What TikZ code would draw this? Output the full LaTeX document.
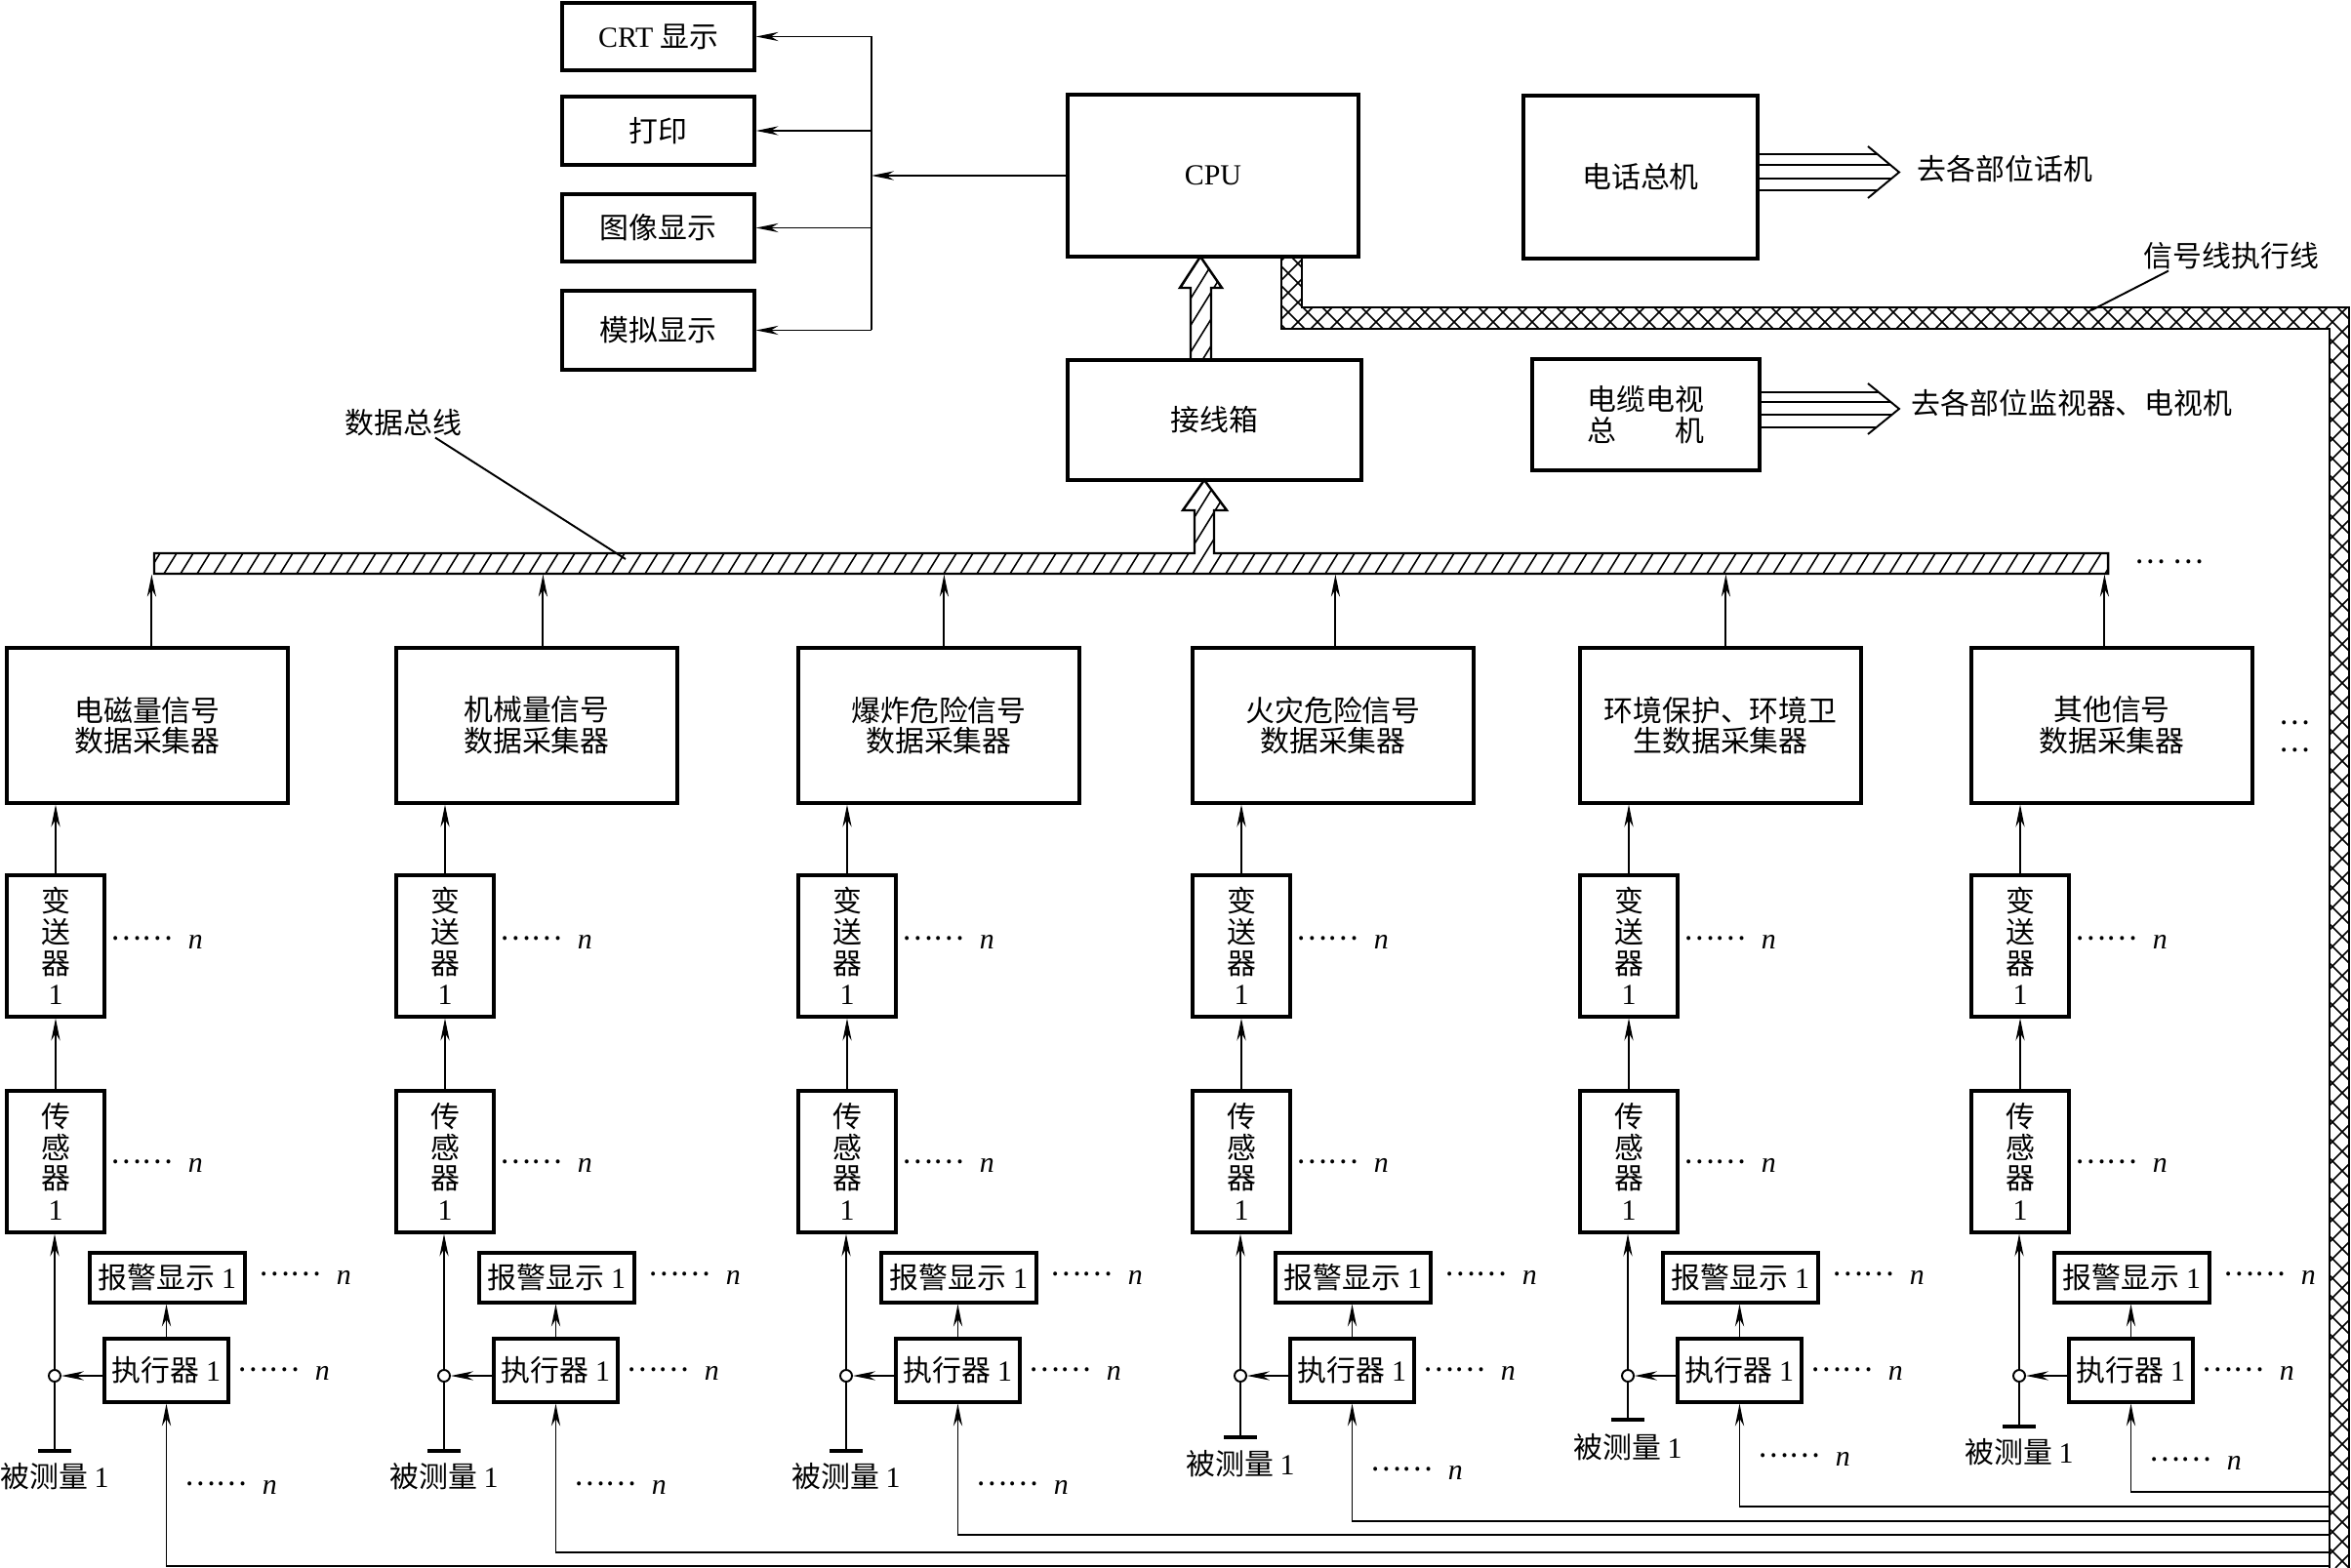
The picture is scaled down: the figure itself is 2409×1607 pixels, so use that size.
\documentclass[tikz,border=0pt]{standalone}
\usepackage{fontspec}
\setmainfont{Liberation Serif}
\newfontfamily\cjk{Noto Sans CJK SC}
\usetikzlibrary{arrows.meta,calc}
\newdimen\upx \upx=0.01cm
\newcommand\lat[1]{{\rmfamily #1}}
\newcommand\mydots[1]{\raisebox{0.3em}{#1}}
\newcommand\mydn{\mydots{……}\hspace{4.5pt}\lat{\itshape n}}
\tikzset{
  box/.style={draw, line width=0.9pt, inner sep=0pt, align=center, font=\fontsize{8.5}{9}\cjk},
  conn/.style={line width=0.55pt},
  arr/.style={conn, -{Stealth[length=6.5pt,width=2.6pt]}},
  lbl/.style={inner sep=0pt, font=\fontsize{8.5}{9}\cjk},
  dotn/.style={lbl, anchor=west},
  hatch/.style={line width=0.45pt},
  outl/.style={line width=0.7pt},
}
\newcommand\mybox[7][]{\node[box,#1,minimum width={((#5)-(#3))*\upx},minimum height={((#6)-(#4))*\upx}] (#2) at ({((#3)+(#5))/2},{((#4)+(#6))/2}) {#7};}
\begin{document}
\begin{tikzpicture}[x=0.01cm,y=-0.01cm]
\useasboundingbox (0,0) rectangle (2409,1607);

% ---------- cross-hatched signal/actuator cable ----------
\begin{scope}
\clip (1313,263) -- (1313,337) -- (2387,337) -- (2387,1607) -- (2407,1607) -- (2407,315) -- (1334,315) -- (1334,263) -- cycle;
\foreach \c in {-300,-280,...,2160} \draw[hatch] (\c+263,263) -- (\c+1607,1607);
\foreach \c in {1560,1580,...,4020} \draw[hatch] (\c-263,263) -- (\c-1607,1607);
\end{scope}
\draw[outl] (1313,263) -- (1313,337) -- (2387,337) -- (2387,1607);
\draw[outl] (1334,263) -- (1334,315) -- (2407,315) -- (2407,1607);

% ---------- data bus with hollow arrow ----------
\begin{scope}
\clip (158,567) -- (1224,567) -- (1224,523) -- (1212,523) -- (1234,492) -- (1257,523) -- (1244,523) -- (1244,567) -- (2160,567) -- (2160,588) -- (158,588) -- cycle;
\foreach \x in {100,117,...,2180} \draw[hatch] (\x,588) -- (\x+59.4,492);
\end{scope}
\draw[outl] (158,567) -- (1224,567) -- (1224,523) -- (1212,523) -- (1234,492) -- (1257,523) -- (1244,523) -- (1244,567) -- (2160,567) -- (2160,588) -- (158,588) -- cycle;
\node[inner sep=0pt, minimum width={2002*\upx}, minimum height={21*\upx}] (bus) at (1159,577.5) {};

% hollow arrow junction box -> CPU
\begin{scope}
\clip (1220,369) -- (1220,295) -- (1209,295) -- (1230,263) -- (1252,295) -- (1241,295) -- (1241,369) -- cycle;
\foreach \x in {1130,1147,...,1270} \draw[hatch] (\x,369) -- (\x+65.6,263);
\end{scope}
\draw[outl] (1220,369) -- (1220,295) -- (1209,295) -- (1230,263) -- (1252,295) -- (1241,295) -- (1241,369);

% ---------- top boxes ----------
\mybox{crt}{576}{3}{773}{72}{\lat{CRT} 显示}
\mybox{prt}{576}{99}{773}{169}{打印}
\mybox{img}{576}{199}{773}{268}{图像显示}
\mybox{sim}{576}{298}{773}{379}{模拟显示}
\mybox{cpu}{1094}{97}{1392}{263}{\lat{CPU}}
\mybox{jxx}{1094}{369}{1395}{492}{接线箱}
\mybox{tel}{1561}{98}{1801}{265}{电话总机}
\mybox{tv}{1570}{368}{1803}{482}{电缆电视\\总\hspace{2em}机}

\coordinate (vt) at (893,0);
\draw[conn] (vt |- crt) -- (vt |- sim);
\draw[arr] (cpu.west) -- (cpu.west -| vt);
\foreach \n in {crt,prt,img,sim} \draw[arr] (vt |- \n) -- (\n.east);

% multi-line arrows
\foreach \dy/\ex in {-23.5/1924,-12.5/1937,1.5/1938,13.5/1924}
  \draw[conn] ($(tel.east)+(0,\dy)$) -- (\ex,{181.5+\dy});
\coordinate (telTip) at (1946,176.5);
\draw[conn] (1914,150) -- (telTip) -- (1914,203);
\foreach \dy/\ex in {-23/1925,-13/1937,0/1939,13/1923}
  \draw[conn] ($(tv.east)+(0,\dy)$) -- (\ex,{425+\dy});
\coordinate (tvTip) at (1946,419);
\draw[conn] (1914,393) -- (tvTip) -- (1914,445);

\node[lbl, anchor=west] (l1) at (1964,173) {去各部位话机};
\node[lbl, anchor=west] (l2) at (1958,413) {去各部位监视器、电视机};
\node[lbl, anchor=west] (l3) at (2196,262) {信号线执行线};
\coordinate (l3p) at (2143,318);
\draw[conn] ($(l3.south west)+(26,1)$) -- (l3p);
\node[lbl, anchor=west] (l4) at (353,433) {数据总线};
\coordinate (l4p) at (641,573);
\draw[conn] ($(l4.south west)+(93,1)$) -- (l4p);

\node[lbl] (bd) at (2223,580) {\mydots{…\hspace{2pt}…}};
\node[lbl] (rd1) at (2351,745) {\mydots{…}};
\node[lbl] (rd2) at (2351,773) {\mydots{…}};

% ---------- collectors ----------
\mybox{col1}{7}{664}{295}{823}{电磁量信号\\数据采集器}
\mybox{col2}{406}{664}{694}{823}{机械量信号\\数据采集器}
\mybox{col3}{818}{664}{1106}{823}{爆炸危险信号\\数据采集器}
\mybox{col4}{1222}{664}{1510}{823}{火灾危险信号\\数据采集器}
\mybox{col5}{1619}{664}{1907}{823}{环境保护、环境卫\\生数据采集器}
\mybox{col6}{2020}{664}{2308}{823}{其他信号\\数据采集器}

\foreach \i/\b/\ax/\yg/\yl/\yd/\yr in {
1/7/150/1487/1513/1522/1605,
2/406/152/1487/1513/1522/1591,
3/818/151/1487/1513/1522/1573,
4/1222/148/1473/1500/1507/1559,
5/1619/151/1455/1483/1493/1544,
6/2020/138/1462/1488/1497/1529}{
  \mybox{tx\i}{\b}{897}{\b+100}{1042}{变\\送\\器\\\lat{1}}
  \mybox{sn\i}{\b}{1118}{\b+100}{1263}{传\\感\\器\\\lat{1}}
  \mybox{al\i}{\b+85}{1284}{\b+244}{1335}{报警显示 \lat{1}}
  \mybox{ex\i}{\b+100}{1372}{\b+227}{1437}{执行器 \lat{1}}
  \node[circle,draw,conn,fill=white,inner sep=0pt,minimum size={12*\upx}] (j\i) at (\b+49,1410) {};
  \coordinate (g\i) at (\b+49,\yg);
  \coordinate (k\i) at (2387,\yr);
  \coordinate (cu\i) at ($(col\i.north west)+(\ax,0)$);
  \draw[arr] (cu\i) -- (cu\i |- bus.south);
  \draw[arr] (tx\i.north) -- (tx\i.north |- col\i.south);
  \draw[arr] (sn\i.north) -- (tx\i.south);
  \draw[arr] (j\i) -- (j\i |- sn\i.south);
  \draw[conn] (j\i) -- (g\i);
  \draw[line width=0.9pt] ($(g\i)+(-17,0)$) -- ($(g\i)+(17,0)$);
  \draw[arr] (ex\i.west |- j\i) -- (j\i);
  \draw[arr] (ex\i.north) -- (ex\i.north |- al\i.south);
  \draw[arr] (k\i) -| (ex\i.south);
  \node[lbl] (m\i) at (\b+49,\yl) {被测量 \lat{1}};
  \node[dotn] (dt\i) at (\b+106,965) {\mydn};
  \node[dotn] (ds\i) at (\b+106,1194) {\mydn};
  \node[dotn] (da\i) at (\b+258,1309) {\mydn};
  \node[dotn] (de\i) at (\b+236,1407) {\mydn};
  \node[dotn] (db\i) at (\b+182,\yd+2) {\mydn};
}
\end{tikzpicture}
\end{document}
